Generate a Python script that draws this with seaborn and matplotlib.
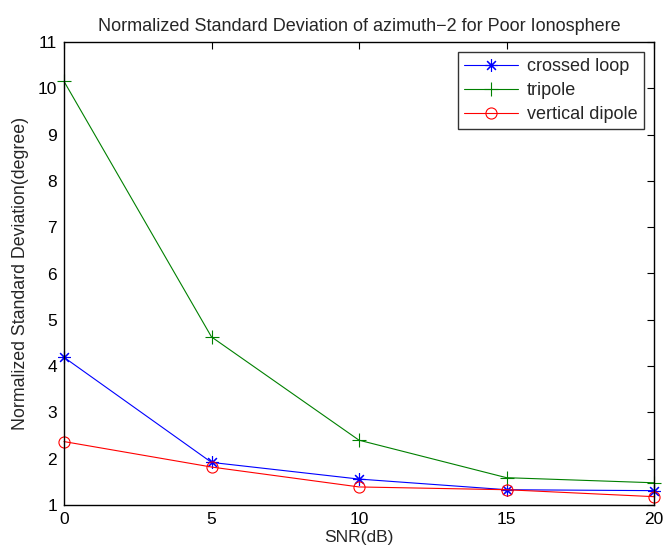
import matplotlib
matplotlib.use("Agg")
import matplotlib.pyplot as plt
import seaborn as sns
import pandas as pd

snr = [0, 5, 10, 15, 20]
crossed_loop = [4.19, 1.92, 1.56, 1.33, 1.31]
tripole = [10.15, 4.63, 2.40, 1.59, 1.48]
vertical_dipole = [2.37, 1.82, 1.39, 1.33, 1.18]
series_names = ["crossed loop", "tripole", "vertical dipole"]
x_ticks = [0, 5, 10, 15, 20]
y_ticks = [1, 2, 3, 4, 5, 6, 7, 8, 9, 10, 11]

sns.set_theme(style="white")
plt.rcParams['font.family'] = ['Liberation Sans', 'DejaVu Sans']
plt.rcParams['axes.unicode_minus'] = True

fig = plt.figure(figsize=(6.63, 5.53), dpi=100)
ax = fig.add_axes([64/663, 1-505/553, (654-64)/663, (505-42)/553])

styles = [
    dict(color=(0, 0, 1), marker=(8, 2, 0), mfc=(0, 0, 1), ms=9),
    dict(color=(0, 0.5, 0), marker="+", mfc=(0, 0.5, 0), ms=10),
    dict(color=(1, 0, 0), marker="o", mfc="none", ms=8),
]
for name, vals, st in zip(series_names, [crossed_loop, tripole, vertical_dipole], styles):
    df = pd.DataFrame({"snr": snr, "val": vals})
    sns.lineplot(data=df, x="snr", y="val", ax=ax, color=st["color"], marker=st["marker"],
                 markersize=st["ms"], markerfacecolor=st["mfc"], markeredgecolor=st["color"],
                 markeredgewidth=0.8, linewidth=0.8, label=name, clip_on=False)

ax.set_xlim(0, 20)
ax.set_ylim(1, 11)
ax.set_xticks(x_ticks)
ax.set_yticks(y_ticks)
ax.tick_params(direction="in", length=5, width=0.8, top=True, right=True,
               labelsize=12.5, colors="black", pad=5)
for s in ax.spines.values():
    s.set_visible(True)
    s.set_color("black")
    s.set_linewidth(1.0)

ax.set_title("Normalized Standard Deviation of azimuth\u22122 for Poor Ionosphere",
             fontsize=13, pad=8)
ax.set_xlabel("SNR(dB)", fontsize=12.5, labelpad=2)
ax.set_ylabel("Normalized Standard Deviation(degree)", fontsize=12.8, labelpad=6)

leg = ax.legend(loc="upper right", fontsize=13, frameon=True, fancybox=False,
                edgecolor="black", handlelength=3.0, borderaxespad=0.55,
                labelspacing=0.38, handletextpad=0.5, borderpad=0.35)
leg.get_frame().set_linewidth(1.0)

fig.savefig("out.png", dpi=100)
